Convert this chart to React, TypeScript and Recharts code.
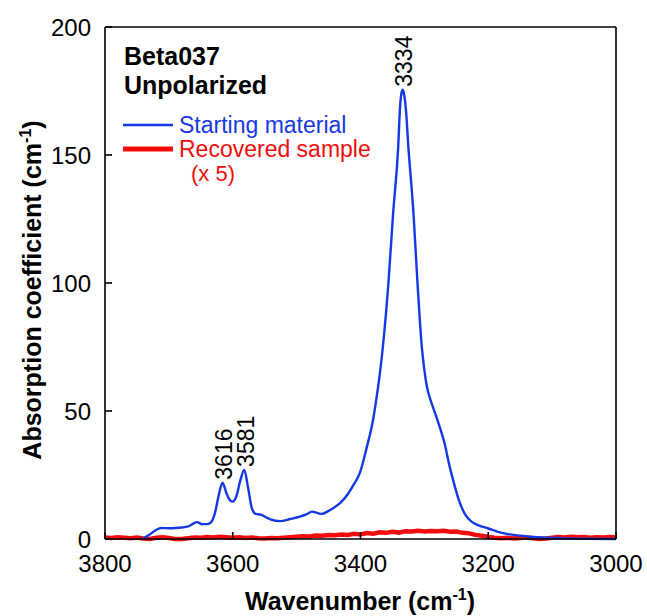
import React from 'react';
import {
  LineChart,
  Line,
  XAxis,
  YAxis,
  ReferenceDot,
} from 'recharts';

// wavenumber (cm-1) / absorption coefficient (cm-1)
const startWavenumber = [
  3742, 3730, 3720, 3712, 3700, 3690, 3680, 3670, 3662, 3656, 3648, 3640, 3634, 3628,
  3622, 3616, 3610, 3604, 3600, 3594, 3588, 3582, 3576, 3570, 3564, 3556, 3548, 3540,
  3526, 3510, 3495, 3485, 3476, 3468, 3461, 3450, 3440, 3432, 3420, 3410, 3401, 3395,
  3390, 3385, 3380, 3375, 3370, 3365, 3356, 3349, 3341, 3338, 3336, 3334, 3332, 3329,
  3325, 3317, 3311, 3304, 3300, 3296, 3290, 3283, 3275, 3268, 3262, 3255, 3245, 3236,
  3226, 3214, 3202, 3185, 3171, 3150, 3135, 3110, 3093, 3080, 3050, 3000,
];
const startAbs = [
  0, 1.8, 3.5, 4.3, 4.2, 4.3, 4.5, 4.9, 6.0, 6.6, 5.8, 5.8, 6.5, 10,
  17, 22, 18, 15, 14.6, 17, 23, 27, 20, 12, 9.8, 9.5, 8.5, 7.6,
  7, 7.8, 8.7, 9.6, 10.7, 10.2, 9.8, 11, 12.5, 14, 17.5, 21.5, 25.8, 31,
  36, 41, 47, 55, 64, 75, 101, 127, 153, 169, 174, 175.5, 174, 168,
  153, 127, 101, 75, 66, 59.5, 54, 49, 43, 37, 30, 23, 14.5, 9.5,
  6.8, 5.2, 4.3, 2.8, 2, 1.3, 0.9, 0.5, 0.4, 0.2, 0.1, 0,
];

// recovered sample, already multiplied by 5
const recWavenumber = [
  3800, 3790, 3780, 3770, 3760, 3750, 3740, 3730, 3720, 3710, 3700, 3690, 3680, 3670,
  3660, 3650, 3640, 3630, 3620, 3610, 3600, 3590, 3580, 3570, 3560, 3550, 3540, 3530,
  3520, 3510, 3500, 3490, 3480, 3470, 3460, 3450, 3440, 3430, 3420, 3410, 3400, 3390,
  3380, 3370, 3360, 3350, 3340, 3330, 3320, 3310, 3300, 3290, 3280, 3270, 3260, 3250,
  3240, 3230, 3220, 3210, 3200, 3190, 3180, 3170, 3160, 3150, 3140, 3130, 3120, 3110,
  3100, 3090, 3080, 3070, 3060, 3050, 3040, 3030, 3020, 3010, 3000,
];
const recAbs = [
  0.6, 0.4, 0.7, 0.5, 0.3, 0.6, 0.2, 0, 0.5, 0.7, 0.4, 0, 0, 0.3,
  0.6, 0.5, 0.8, 0.6, 0.9, 0.7, 0.5, 0.7, 0.4, 0.6, 0.3, 0.2, 0.4, 0.3,
  0.5, 0.7, 0.9, 1.1, 1.0, 1.4, 1.3, 1.6, 1.5, 1.8, 1.6, 2.0, 1.8, 2.3,
  2.1, 2.6, 2.4, 2.8, 2.5, 3.0, 2.9, 3.2, 2.9, 3.1, 3.0, 3.2, 2.8, 2.9,
  2.4, 2.2, 1.6, 1.3, 0.8, 0.5, 0.3, 0.5, 0.2, 0.4, 0.6, 0.3, 0, 0.2,
  0.5, 0.8, 0.6, 0.9, 0.7, 0.8, 0.5, 0.7, 0.6, 0.8, 0.7,
];

const peakWavenumber = [3616, 3581, 3334];
const peakAbs = [22, 27, 175.5];

const xTicks = [3000, 3200, 3400, 3600, 3800];
const yTicks = [0, 50, 100, 150, 200];

const BLUE = '#1538e6';
const RED = '#f30c0c';
const FONT = '"Liberation Sans", Arial, sans-serif';

const startData = startWavenumber.map((w, i) => ({ w, v: startAbs[i] }));
const recData = recWavenumber.map((w, i) => ({ w, v: recAbs[i] }));

// eslint-disable-next-line @typescript-eslint/no-explicit-any
function PeakLabel({ viewBox, text }: any) {
  const px = viewBox.x + 9;
  const py = viewBox.y - 3;
  return (
    <text
      x={px}
      y={py}
      transform={`rotate(-90, ${px}, ${py})`}
      fontSize={23}
      fontFamily={FONT}
      fill="#000"
    >
      {text}
    </text>
  );
}

const tickStyle = { fill: '#000', fontSize: 24, fontFamily: FONT };
const axisStroke = { stroke: '#000', strokeWidth: 1.6 };

export default function App() {
  return (
    <div style={{ position: 'absolute', left: 0, top: 0, width: 647, height: 616, background: '#fff' }}>
      <LineChart width={647} height={616} data={startData} margin={{ top: 0, right: 0, bottom: 0, left: 0 }}>
        <XAxis
          xAxisId={0}
          dataKey="w"
          type="number"
          domain={[3000, 3800]}
          reversed
          ticks={xTicks}
          height={77}
          tick={tickStyle}
          tickSize={-7}
          tickMargin={23}
          axisLine={axisStroke}
          tickLine={axisStroke}
        />
        <XAxis
          xAxisId="top"
          orientation="top"
          dataKey="w"
          type="number"
          domain={[3000, 3800]}
          reversed
          ticks={xTicks}
          height={27}
          tick={false}
          tickSize={-7}
          axisLine={axisStroke}
          tickLine={axisStroke}
        />
        <YAxis
          yAxisId={0}
          type="number"
          domain={[0, 200]}
          ticks={yTicks}
          width={105}
          tick={tickStyle}
          tickSize={-7}
          tickMargin={21}
          axisLine={axisStroke}
          tickLine={axisStroke}
        />
        <YAxis
          yAxisId="right"
          orientation="right"
          type="number"
          domain={[0, 200]}
          ticks={yTicks}
          width={31}
          tick={false}
          tickSize={-7}
          axisLine={axisStroke}
          tickLine={axisStroke}
        />
        <Line
          data={recData}
          dataKey="v"
          type="linear"
          stroke={RED}
          strokeWidth={4.5}
          dot={false}
          isAnimationActive={false}
        />
        <Line
          data={startData}
          dataKey="v"
          type="monotone"
          stroke={BLUE}
          strokeWidth={2.4}
          dot={false}
          isAnimationActive={false}
        />
        {peakWavenumber.map((w, i) => (
          <ReferenceDot
            key={w}
            x={w}
            y={peakAbs[i]}
            r={0}
            fill="none"
            stroke="none"
            label={<PeakLabel text={String(w)} />}
          />
        ))}
      </LineChart>
      <svg
        width={647}
        height={616}
        style={{ position: 'absolute', left: 0, top: 0, pointerEvents: 'none' }}
        fontFamily={FONT}
      >
        <text x={124} y={65} fontSize={25} fontWeight="bold" fill="#000">Beta037</text>
        <text x={124} y={94} fontSize={25} fontWeight="bold" fill="#000">Unpolarized</text>

        <line x1={123} x2={173} y1={125} y2={125} stroke={BLUE} strokeWidth={2.6} />
        <text x={179} y={133} fontSize={23} fill={BLUE}>Starting material</text>
        <line x1={123} x2={173} y1={149} y2={149} stroke={RED} strokeWidth={5} />
        <text x={179} y={157} fontSize={23} fill={RED}>Recovered sample</text>
        <text x={191} y={181} fontSize={22} fill={RED}>(x 5)</text>

        <text x={360} y={610} fontSize={25} fontWeight="bold" textAnchor="middle" fill="#000">
          Wavenumber (cm
          <tspan fontSize={16} dy={-10}>-1</tspan>
          <tspan dy={10}>)</tspan>
        </text>
        <text
          x={41}
          y={290}
          transform="rotate(-90, 41, 290)"
          fontSize={25}
          fontWeight="bold"
          textAnchor="middle"
          fill="#000"
        >
          Absorption coefficient (cm
          <tspan fontSize={16} dy={-10}>-1</tspan>
          <tspan dy={10}>)</tspan>
        </text>
      </svg>
    </div>
  );
}
